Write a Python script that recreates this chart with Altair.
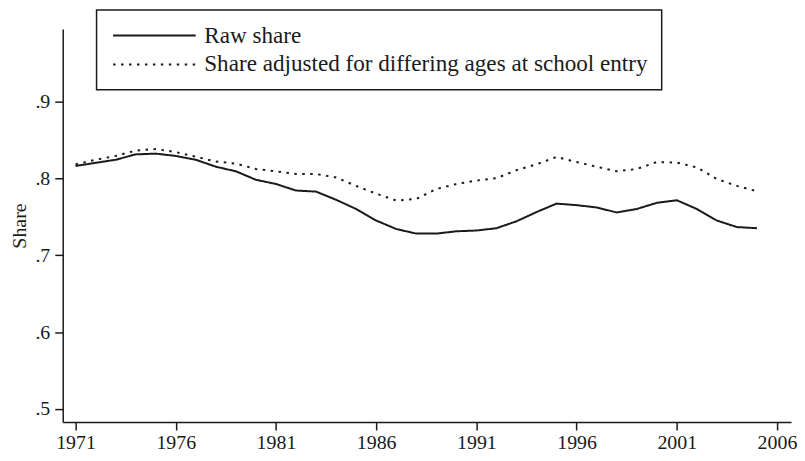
import altair as alt
import pandas as pd

years = list(range(1971, 2006))
raw_share = [0.816, 0.820, 0.824, 0.831, 0.832, 0.829, 0.824, 0.815, 0.809, 0.798,
             0.7925, 0.784, 0.7826, 0.772, 0.760, 0.745, 0.734, 0.728, 0.728, 0.731,
             0.732, 0.735, 0.744, 0.756, 0.767, 0.765, 0.762, 0.7555, 0.760, 0.768,
             0.7714, 0.760, 0.745, 0.7365, 0.735]
adj_share = [0.818, 0.824, 0.829, 0.836, 0.838, 0.834, 0.828, 0.8217, 0.819, 0.812,
             0.809, 0.8055, 0.8055, 0.801, 0.790, 0.780, 0.771, 0.773, 0.786, 0.7925,
             0.797, 0.800, 0.8105, 0.818, 0.8277, 0.821, 0.815, 0.809, 0.812, 0.821,
             0.8204, 0.814, 0.799, 0.790, 0.783]
series_names = ["Raw share", "Share adjusted for differing ages at school entry"]
x_ticks = [1971, 1976, 1981, 1986, 1991, 1996, 2001, 2006]
y_ticks = [0.5, 0.6, 0.7, 0.8, 0.9]

df = pd.DataFrame({
    "year": years * 2,
    "share": raw_share + adj_share,
    "series": [series_names[0]] * len(years) + [series_names[1]] * len(years),
})

font = "Liberation Serif"

chart = alt.Chart(df).mark_line(color="#1a1a1a", strokeWidth=2).encode(
    x=alt.X("year:Q", title=None,
            scale=alt.Scale(domain=[1970.36, 2006.7], nice=False, zero=False),
            axis=alt.Axis(values=x_ticks, format="d", labelPadding=3)),
    y=alt.Y("share:Q", title="Share",
            scale=alt.Scale(domain=[0.483, 0.994], nice=False, zero=False),
            axis=alt.Axis(values=y_ticks,
                          labelExpr="replace(format(datum.value, '.1f'), '0.', '.')",
                          labelPadding=5, titlePadding=5)),
    strokeDash=alt.StrokeDash(
        "series:N",
        scale=alt.Scale(domain=series_names, range=[[1, 0], [2.5, 5.5]]),
        legend=alt.Legend(
            title=None, orient="none", legendX=34, legendY=-19,
            symbolType="M-1.8,0H14.8", symbolSize=100, symbolStrokeWidth=2,
            symbolStrokeColor="#1a1a1a",
            labelFont=font, labelFontSize=23.25, labelColor="#1a1a1a", labelOffset=71,
            labelLimit=700, rowPadding=5, padding=14,
            strokeColor="#1a1a1a", fillColor="white",
        ),
    ),
).properties(
    width=732, height=395,
    padding={"left": 2, "top": 0, "right": 0, "bottom": 0},
).configure_view(stroke=None).configure_axis(
    domainColor="#1a1a1a", domainWidth=1.5, tickColor="#1a1a1a", tickWidth=1.5,
    tickSize=8, grid=False, labelFont=font, labelFontSize=20, labelColor="#1a1a1a",
    titleFont=font, titleFontSize=20, titleFontWeight="normal", titleColor="#1a1a1a",
).configure_legend(strokeWidth=1.5)

chart.save("out.html", embed_options={"renderer": "svg", "actions": False})
